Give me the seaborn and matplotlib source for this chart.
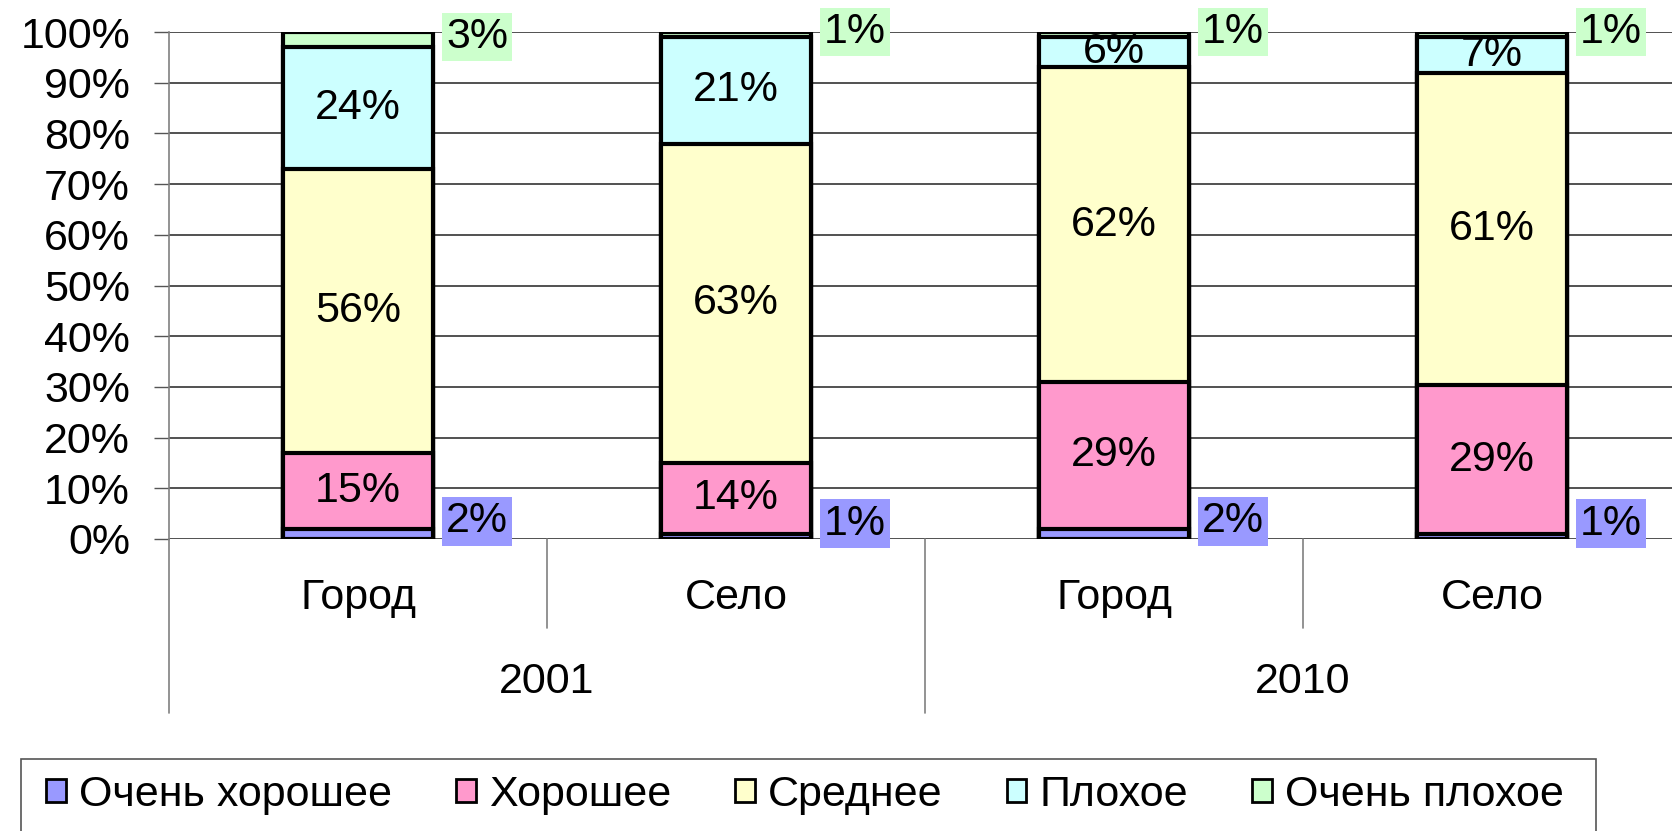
import numpy as np
import matplotlib.pyplot as plt
from matplotlib.patches import Patch, Rectangle
import seaborn as sns

# data
years = ["2001", "2001", "2010", "2010"]
places = ["Город", "Село", "Город", "Село"]
series = ["Очень хорошее", "Хорошее", "Среднее", "Плохое", "Очень плохое"]
very_good = [2, 1, 2, 1]
good = [15, 14, 29, 29]
average = [56, 63, 62, 61]
bad = [24, 21, 6, 7]
very_bad = [3, 1, 1, 1]
colors = ["#9999FF", "#FF99CC", "#FFFFCC", "#CCFFFF", "#CCFFCC"]

sns.set_theme(style="white")
plt.rcParams["font.family"] = ["Liberation Sans", "DejaVu Sans"]
plt.rcParams["text.color"] = "black"
plt.rcParams["ytick.color"] = "black"
FS = 31

vals = np.array([very_good, good, average, bad, very_bad], dtype=float)
share = vals / vals.sum(axis=0) * 100  # 100% stacked, like the original
cum = np.cumsum(share, axis=0)
keys = [f"{y} {p}" for y, p in zip(years, places)]

fig = plt.figure(figsize=(16.72, 8.31), dpi=100)
ax = fig.add_axes([169 / 1672, 1 - 539 / 831, 4 * 378 / 1672, (539 - 32) / 831])

# overlapping cumulative bars -> stacked look
for i in reversed(range(len(series))):
    sns.barplot(x=keys, y=cum[i], order=keys, color=colors[i], saturation=1,
                edgecolor="black", linewidth=3.0, width=0.396, errorbar=None, ax=ax)

ax.set_xlim(-0.5, 3.5)
ax.set_ylim(0, 100)
ax.set_axisbelow(True)
ax.yaxis.grid(True, color="#222222", linewidth=1.1)
ax.set_yticks(range(0, 101, 10))
ax.set_yticklabels([f"{t}%" for t in range(0, 101, 10)])
ax.tick_params(axis="y", length=11, width=1, color="#555555", labelcolor="black",
               pad=17, labelsize=FS, left=True)
ax.set_xticks([])
ax.set_xlabel("")
ax.set_ylabel("")
for s in ["top", "right", "bottom"]:
    ax.spines[s].set_visible(False)
ax.spines["left"].set_color("#808080")
ax.spines["left"].set_linewidth(1.2)

# value labels
half = 0.198
for j in range(len(keys)):
    for i in range(len(series)):
        yc = cum[i, j] - share[i, j] / 2
        txt = f"{int(vals[i, j])}%"
        if i == 0:
            ax.text(j + half + 0.035, yc + 2.5, txt, ha="left", va="center", fontsize=FS,
                    bbox=dict(boxstyle="square,pad=0.1", facecolor=colors[0], edgecolor="none"))
        elif i == len(series) - 1:
            ax.text(j + half + 0.035, yc + 0.5, txt, ha="left", va="center", fontsize=FS,
                    bbox=dict(boxstyle="square,pad=0.1", facecolor=colors[-1], edgecolor="none"))
        else:
            ax.text(j, yc, txt, ha="center", va="center", fontsize=FS)

# two level category axis
for j, p in enumerate(places):
    ax.text(j, -11.7, p, ha="center", va="center", fontsize=FS, clip_on=False)
for y in dict.fromkeys(years):
    idx = [k for k, yy in enumerate(years) if yy == y]
    ax.text(np.mean(idx), -28.3, y, ha="center", va="center", fontsize=FS, clip_on=False)
    ax.plot([idx[0] - 0.5] * 2, [0, -34.4], color="#808080", lw=1.2, clip_on=False)
    for k in idx[1:]:
        ax.plot([k - 0.5] * 2, [0, -17.6], color="#808080", lw=1.2, clip_on=False)
ax.plot([3.5] * 2, [0, -34.4], color="#808080", lw=1.2, clip_on=False)

# legend with its own frame that runs off the bottom
handles = [Patch(facecolor=c, edgecolor="black", linewidth=2.0) for c in colors]
fig.legend(handles, series, loc="center", bbox_to_anchor=(0.4815, 0.043), ncol=5,
           frameon=False, fontsize=FS, handlelength=0.45, handleheight=0.45,
           handletextpad=0.3, columnspacing=1.5)
fig.add_artist(Rectangle((21 / 1672, -0.05), (1596 - 21) / 1672, 0.05 + (1 - 759 / 831),
                         transform=fig.transFigure, fill=False, edgecolor="#555555", lw=1.2))

fig.savefig("out.png", dpi=100)
